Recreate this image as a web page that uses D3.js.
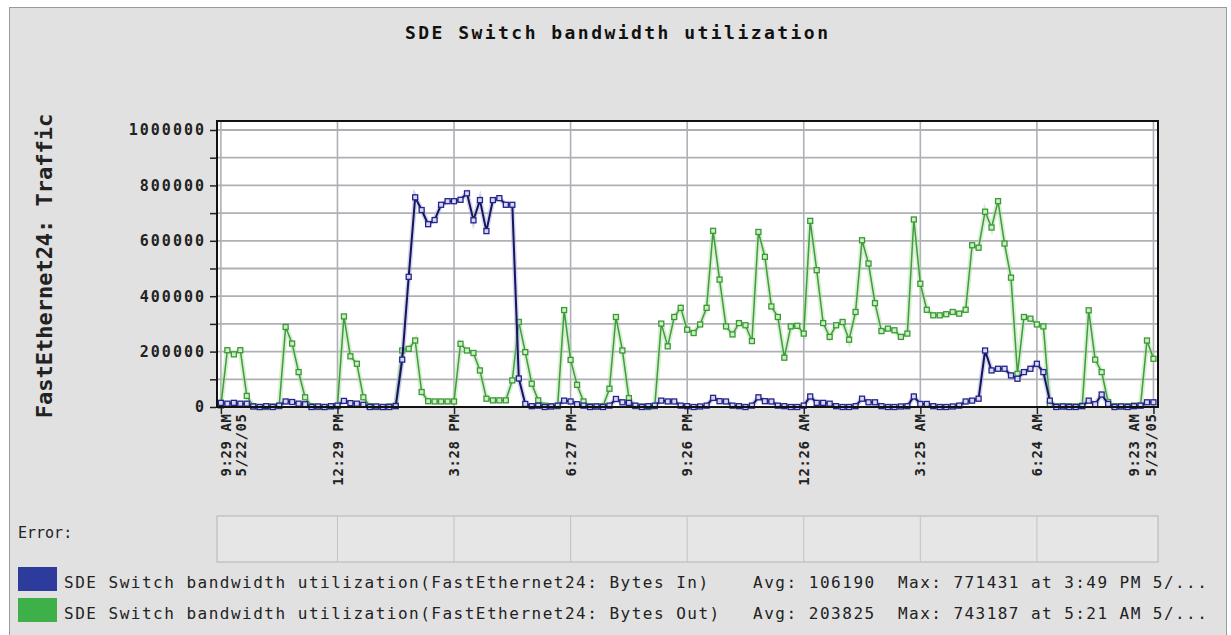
<!DOCTYPE html>
<html>
<head>
<meta charset="utf-8">
<script src="https://cdn.jsdelivr.net/npm/d3@7"></script>
<style>
  body { margin: 0; background: #fff; }
  svg { display: block; }
</style>
</head>
<body>
<div id="chart"></div>
<script>
// Samples every ~10 minutes from 9:29 AM 5/22/05, values in thousands of bytes
const bytesInK = [
  15, 12, 15, 12, 12, 2, 0, 3, 0, 5,
  20, 18, 12, 10, 0, 2, 0, 3, 5, 22,
  14, 12, 8, 0, 2, 0, 0, 3, 171, 470,
  757, 711, 660, 675, 730, 743, 743, 748, 771.431, 674,
  747, 635, 747, 754, 730, 730, 103, 11, 3, 5,
  0, 2, 5, 23, 20, 10, 5, 0, 2, 0,
  5, 29, 17, 15, 5, 0, 3, 5, 23, 20,
  20, 5, 3, 0, 2, 5, 33, 21, 20, 5,
  3, 0, 5, 35, 21, 20, 5, 3, 0, 0,
  5, 38, 15, 15, 12, 3, 0, 0, 3, 30,
  17, 17, 3, 0, 0, 2, 3, 38, 11, 11,
  3, 0, 0, 2, 5, 20, 23, 30, 204, 132,
  138, 138, 114, 102, 126, 138, 156, 126, 23, 0,
  2, 0, 0, 3, 23, 10, 45, 11, 0, 2,
  0, 3, 5, 17, 17
];
const bytesOutK = [
  5, 205, 190, 205, 40, 3, 0, 0, 2, 3,
  289, 229, 126, 35, 3, 0, 0, 2, 3, 327,
  183, 156, 35, 3, 0, 0, 2, 5, 204, 210,
  240, 54, 21, 20, 20, 20, 20, 228, 204, 195,
  132, 30, 24, 24, 24, 96, 307, 198, 84, 24,
  5, 3, 3, 350, 170, 80, 20, 3, 2, 3,
  66, 325, 204, 32, 3, 2, 0, 3, 301, 219,
  325, 358, 279, 267, 298, 358, 636, 460, 291, 262,
  303, 295, 238, 632, 542, 363, 325, 178, 291, 293,
  265, 672, 494, 303, 253, 295, 307, 243, 343, 602,
  518, 375, 274, 283, 277, 253, 265, 677, 445, 351,
  331, 331, 335, 343, 337, 351, 584, 575, 705, 648,
  743.187, 590, 467, 120, 325, 319, 298, 291, 10, 3,
  2, 3, 2, 5, 349, 171, 126, 18, 3, 2,
  3, 5, 5, 240, 174
];

const tickIndex = [0, 18, 36, 54, 72, 90, 108, 126, 144];
const tickTimes = ["9:29 AM", "12:29 PM", "3:28 PM", "6:27 PM", "9:26 PM", "12:26 AM", "3:25 AM", "6:24 AM", "9:23 AM"];
const tickDates = ["5/22/05", "", "", "", "", "", "", "", "5/23/05"];
const yTicks = [0, 100000, 200000, 300000, 400000, 500000, 600000, 700000, 800000, 900000, 1000000];

const seriesNames = [
  "SDE Switch bandwidth utilization(FastEthernet24: Bytes In)",
  "SDE Switch bandwidth utilization(FastEthernet24: Bytes Out)"
];
const seriesAvg = ["Avg: 106190", "Avg: 203825"];
const seriesMax = ["Max: 771431 at 3:49 PM 5/...", "Max: 743187 at 5:21 AM 5/..."];
const swatchColors = ["#2d3b9c", "#3db049"];

const mono = "'DejaVu Sans Mono', 'Liberation Mono', monospace";

const svg = d3.select("#chart").append("svg")
  .attr("width", 1231)
  .attr("height", 635);

// outer frame
svg.append("rect")
  .attr("x", 9.5).attr("y", 7.5)
  .attr("width", 1217).attr("height", 640)
  .attr("fill", "#e1e1e1")
  .attr("stroke", "#9a9a9a");

// title
svg.append("text")
  .attr("x", 405).attr("y", 39)
  .attr("textLength", 423).attr("lengthAdjust", "spacing")
  .style("font-family", mono).style("font-size", "18px").style("font-weight", "bold")
  .attr("fill", "#111")
  .text("SDE Switch bandwidth utilization");

// scales
const x = d3.scaleLinear().domain([-0.6, 144.7]).range([217, 1158]);
const y = d3.scaleLinear().domain([0, 1032500]).range([407, 121]);

// plot background
svg.append("rect")
  .attr("x", x.range()[0]).attr("y", y.range()[1])
  .attr("width", x.range()[1] - x.range()[0])
  .attr("height", y.range()[0] - y.range()[1])
  .attr("fill", "#fff");

// gridlines
svg.append("g").selectAll("line")
  .data(yTicks.slice(1))
  .join("line")
  .attr("x1", x.range()[0]).attr("x2", x.range()[1])
  .attr("y1", d => y(d)).attr("y2", d => y(d))
  .attr("stroke", "#aeb0b6").attr("stroke-width", 1.8);

svg.append("g").selectAll("line")
  .data(tickIndex)
  .join("line")
  .attr("x1", d => x(d)).attr("x2", d => x(d))
  .attr("y1", y.range()[1]).attr("y2", y.range()[0])
  .attr("stroke", "#aeb0b6").attr("stroke-width", 1.6);

// lines + markers
const line = d3.line()
  .x((d, i) => x(i))
  .y(d => y(d * 1000));

function drawSeries(values, glow, stroke, width, markStroke, markFill) {
  svg.append("path")
    .datum(values)
    .attr("fill", "none")
    .attr("stroke", glow).attr("stroke-width", 5).attr("opacity", 0.45)
    .attr("d", line);
  svg.append("path")
    .datum(values)
    .attr("fill", "none")
    .attr("stroke", stroke).attr("stroke-width", width)
    .attr("d", line);
  svg.append("g").selectAll("rect")
    .data(values)
    .join("rect")
    .attr("x", (d, i) => x(i) - 2.5)
    .attr("y", d => y(d * 1000) - 2.5)
    .attr("width", 5).attr("height", 5)
    .attr("fill", markFill)
    .attr("stroke", markStroke).attr("stroke-width", 1.3);
}

drawSeries(bytesOutK, "#a8dd98", "#3f9c3f", 1.5, "#3a9a36", "#cdeec4");
drawSeries(bytesInK, "#9fa3d8", "#15155e", 2, "#24248a", "#d6d8f4");

// plot border
svg.append("rect")
  .attr("x", x.range()[0]).attr("y", y.range()[1])
  .attr("width", x.range()[1] - x.range()[0])
  .attr("height", y.range()[0] - y.range()[1])
  .attr("fill", "none")
  .attr("stroke", "#111").attr("stroke-width", 2);

// y axis
const yAxis = svg.append("g")
  .attr("transform", `translate(${x.range()[0] - 1},0)`)
  .call(d3.axisLeft(y)
    .tickValues(yTicks)
    .tickSize(6)
    .tickPadding(6)
    .tickFormat(d => d % 200000 === 0 ? String(d) : ""));
yAxis.select(".domain").remove();
yAxis.selectAll(".tick line").attr("stroke", "#222").attr("stroke-width", 1.5);
yAxis.selectAll(".tick text")
  .style("font-family", mono).style("font-size", "15px").style("font-weight", "bold")
  .style("letter-spacing", "2px")
  .attr("fill", "#222")
  .attr("dx", "2px");

// x axis
const xAxis = svg.append("g")
  .attr("transform", `translate(0,${y.range()[0] + 1})`)
  .call(d3.axisBottom(x)
    .tickValues(tickIndex)
    .tickSize(6)
    .tickFormat(""));
xAxis.select(".domain").remove();
xAxis.selectAll(".tick line").attr("stroke", "#222").attr("stroke-width", 1.5);

const xLabels = svg.append("g");
tickIndex.forEach((t, k) => {
  const cx = x(t);
  const lines = tickDates[k] ? [tickTimes[k], tickDates[k]] : [tickTimes[k]];
  let offsets = [0];
  if (k === 0) offsets = [5, 20];
  if (k === tickIndex.length - 1) offsets = [-20, -3];
  lines.forEach((txt, j) => {
    xLabels.append("text")
      .attr("transform", `translate(${cx + offsets[j]},${y.range()[0] + 7}) rotate(-90)`)
      .attr("text-anchor", "end")
      .attr("dy", "0.36em")
      .attr("dx", "0.6px")
      .style("font-family", mono).style("font-size", "14px").style("font-weight", "bold")
      .style("letter-spacing", "0.6px")
      .attr("fill", "#222")
      .text(txt);
  });
});

// y axis title
svg.append("text")
  .attr("transform", "translate(44,266) rotate(-90)")
  .attr("text-anchor", "middle")
  .attr("dy", "0.36em")
  .style("font-family", mono).style("font-size", "22px").style("font-weight", "bold")
  .attr("fill", "#222")
  .text("FastEthernet24: Traffic");

// error strip
svg.append("text")
  .attr("x", 18).attr("y", 538)
  .style("font-family", mono).style("font-size", "15px")
  .attr("fill", "#222")
  .text("Error:");

svg.append("rect")
  .attr("x", x.range()[0]).attr("y", 516)
  .attr("width", x.range()[1] - x.range()[0]).attr("height", 46)
  .attr("fill", "#e6e6e6")
  .attr("stroke", "#b4b4b4");
svg.append("g").selectAll("line")
  .data(tickIndex.slice(1, -1))
  .join("line")
  .attr("x1", d => x(d)).attr("x2", d => x(d))
  .attr("y1", 516).attr("y2", 562)
  .attr("stroke", "#c2c2c2");

// legend
const legendY = [588, 619];
seriesNames.forEach((name, i) => {
  svg.append("rect")
    .attr("x", 18).attr("y", legendY[i] - 21)
    .attr("width", 39).attr("height", 24)
    .attr("fill", swatchColors[i]);
  svg.append("text")
    .attr("x", 64).attr("y", legendY[i])
    .attr("textLength", name.length * 11.14 - 2)
    .attr("lengthAdjust", "spacing")
    .style("font-family", mono).style("font-size", "16px")
    .attr("fill", "#222")
    .text(name);
  svg.append("text")
    .attr("x", 753).attr("y", legendY[i])
    .attr("textLength", seriesAvg[i].length * 11.2 - 2)
    .attr("lengthAdjust", "spacing")
    .style("font-family", mono).style("font-size", "16px")
    .attr("fill", "#222")
    .text(seriesAvg[i]);
  svg.append("text")
    .attr("x", 898).attr("y", legendY[i])
    .attr("textLength", seriesMax[i].length * 11.1 - 2)
    .attr("lengthAdjust", "spacing")
    .style("font-family", mono).style("font-size", "16px")
    .attr("fill", "#222")
    .text(seriesMax[i]);
});
</script>
</body>
</html>
